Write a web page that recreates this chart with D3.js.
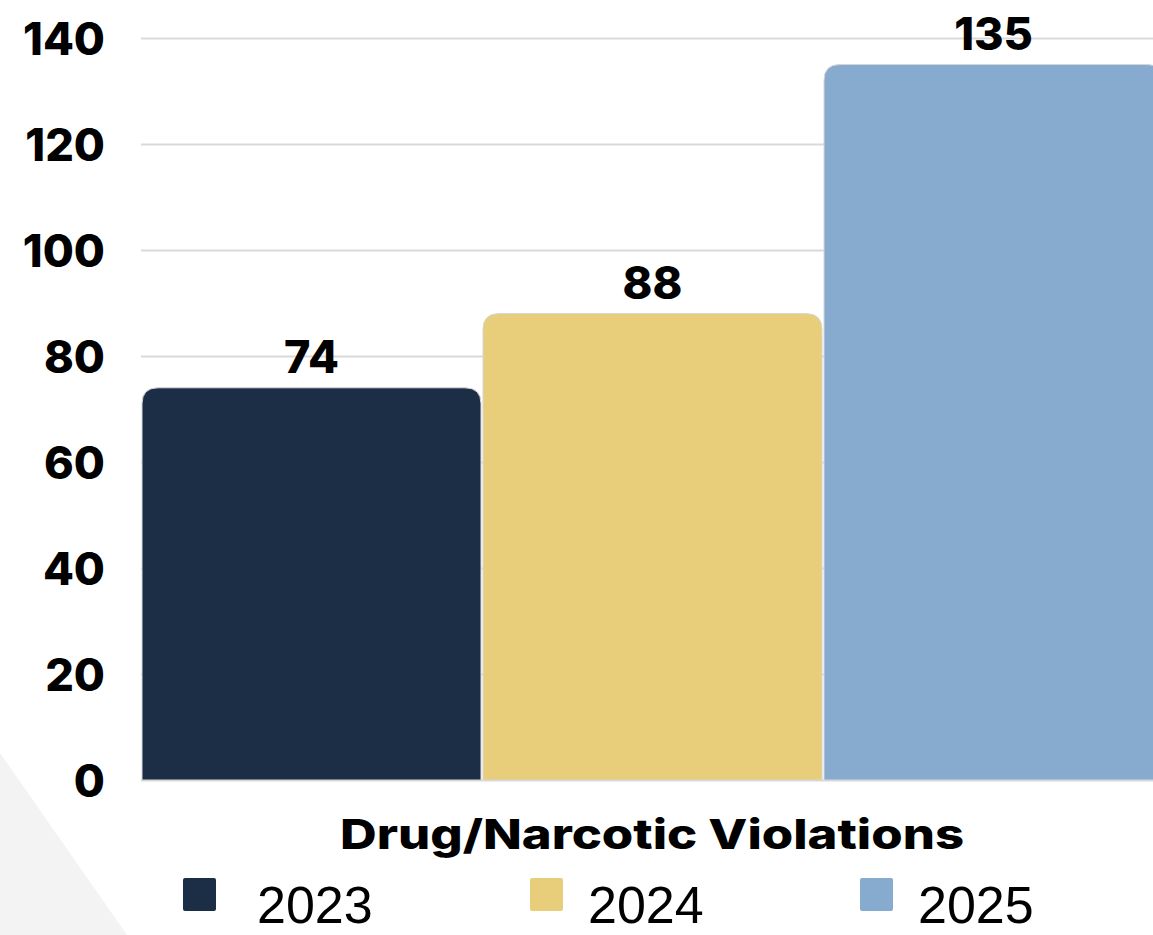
<!DOCTYPE html>
<html>
<head>
<meta charset="utf-8">
<script src="https://cdn.jsdelivr.net/npm/d3@7"></script>
<style>
  html, body { margin: 0; padding: 0; background: #fff; overflow: hidden; }
  svg { display: block; }
  .bold { font-family: Inter, "Open Sans", sans-serif; font-weight: 800; fill: #000; }
  .legend text { font-family: "Liberation Sans", Arial, sans-serif; fill: #000; }
</style>
</head>
<body>
<div id="chart"></div>
<script>
'use strict';

var category = 'Drug/Narcotic Violations';
var years = ['2023', '2024', '2025'];
var counts = [74, 88, 135];
var colors = ['#1b2e46', '#e8cd7a', '#86abcf'];
var yTicks = [0, 20, 40, 60, 80, 100, 120, 140];

var graph = {
  width: 1153,
  height: 935,
  left: 141,
  top: 38,
  bottom: 780,
  barWidth: 341
};

var svg = d3.select('#chart').append('svg')
  .attr('width', graph.width)
  .attr('height', graph.height);

// light grey corner shape at bottom left
svg.append('path')
  .attr('d', 'M0,753 L127,935 L0,935 Z')
  .attr('fill', '#f3f3f3');

var x = d3.scaleBand()
  .domain(years)
  .range([graph.left, graph.left + graph.barWidth * years.length])
  .padding(0);

var y = d3.scaleLinear()
  .domain([0, 140])
  .range([graph.bottom, graph.top]);

// gridlines
svg.append('g')
  .attr('class', 'grid')
  .attr('transform', 'translate(' + graph.left + ',0)')
  .call(d3.axisLeft(y)
    .tickValues(yTicks)
    .tickSize(-(graph.width - graph.left))
    .tickFormat('')
  )
  .call(function(g) {
    g.select('.domain').remove();
    g.selectAll('line').attr('stroke', '#d9d9d9').attr('stroke-width', 2);
  });

// y labels
svg.append('g')
  .attr('transform', 'translate(105,0)')
  .call(d3.axisLeft(y).tickValues(yTicks).tickSize(0).tickPadding(0))
  .call(function(g) {
    g.select('.domain').remove();
    g.selectAll('text')
      .attr('class', 'bold')
      .attr('font-size', 45)
      .attr('dy', '0.36em');
  });

var data = years.map(function(d, i) {
  return { year: d, value: counts[i], color: colors[i] };
});

function topRounded(x0, y0, w, h, r) {
  return 'M' + x0 + ',' + (y0 + h) +
    'V' + (y0 + r) +
    'Q' + x0 + ',' + y0 + ' ' + (x0 + r) + ',' + y0 +
    'H' + (x0 + w - r) +
    'Q' + (x0 + w) + ',' + y0 + ' ' + (x0 + w) + ',' + (y0 + r) +
    'V' + (y0 + h) + 'Z';
}

svg.append('g').selectAll('path')
  .data(data)
  .enter().append('path')
  .attr('d', function(d) {
    return topRounded(x(d.year) + 1, y(d.value), x.bandwidth() - 2, graph.bottom - y(d.value), 16);
  })
  .attr('fill', function(d) { return d.color; })
  .attr('stroke', '#d6d6d6')
  .attr('stroke-width', 1);

svg.append('g').selectAll('text')
  .data(data)
  .enter().append('text')
  .attr('class', 'bold')
  .attr('font-size', 45)
  .attr('text-anchor', 'middle')
  .attr('x', function(d) { return x(d.year) + x.bandwidth() / 2; })
  .attr('y', function(d) { return y(d.value) - 15; })
  .text(function(d) { return d.value; });

// category label
svg.append('text')
  .attr('class', 'bold')
  .attr('font-size', 41)
  .attr('text-anchor', 'middle')
  .attr('textLength', 624)
  .attr('lengthAdjust', 'spacingAndGlyphs')
  .attr('x', 652)
  .attr('y', 849)
  .text(category);

// legend
var legendX = [183, 530, 860];
var legendTextX = [74, 58, 58];
var legend = svg.append('g').attr('class', 'legend')
  .selectAll('g')
  .data(data)
  .enter().append('g')
  .attr('transform', function(d, i) { return 'translate(' + legendX[i] + ',878)'; });

legend.append('rect')
  .attr('width', 33)
  .attr('height', 33)
  .attr('rx', 2)
  .attr('fill', function(d) { return d.color; });

legend.append('text')
  .attr('x', function(d, i) { return legendTextX[i]; })
  .attr('y', 45)
  .attr('font-size', 52)
  .text(function(d) { return d.year; });
</script>
</body>
</html>
